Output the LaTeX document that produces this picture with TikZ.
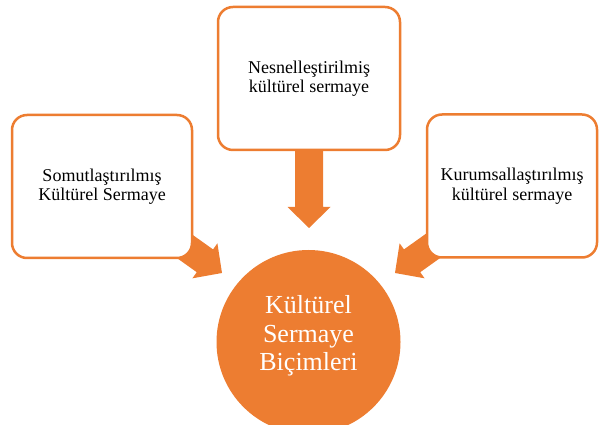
\documentclass[tikz,border=0pt]{standalone}
\usepackage{fontspec}
\setmainfont{Liberation Serif}
\definecolor{accent}{HTML}{ED7D31}
\newcommand{\blockarr}[3]{%
  \fill[accent, shift={(#1)}, rotate=#2] (0,0) -- (-21,21.5) -- (-21,14) -- (-#3,14) -- (-#3,-14) -- (-21,-14) -- (-21,-21.5) -- cycle;}
\begin{document}
\begin{tikzpicture}[x=1pt,y=1pt,
  box/.style={draw=accent, line width=2.5pt, fill=white, rounded corners=15pt,
    minimum height=143pt, align=center, font=\fontsize{18}{19.5}\selectfont},
  hub/.style={circle, fill=accent, minimum size=184pt, inner sep=0pt}]
\clip (0,0) rectangle (599,425);
\useasboundingbox (0,0) rectangle (599,425);
% arrow tips
\coordinate (tipT) at (309,197);
\coordinate (tipL) at (222,152);
\coordinate (tipR) at (395,152);
\blockarr{tipT}{-90}{82}
\blockarr{tipL}{-35.5}{70}
\blockarr{tipR}{-144.5}{70}
% boxes
\node[box, minimum width=182pt] (top) at (309,346.5) {Nesnelleştirilmiş\\kültürel sermaye};
\node[box, minimum width=180pt] (left) at (102,238.5) {Somutlaştırılmış\\Kültürel Sermaye};
\node[box, minimum width=170pt] (right) at (512,239) {Kurumsallaştırılmış\\kültürel sermaye};
% hub
\node[hub] (hub) at (308.5,83) {};
\node[text=white, align=center, font=\fontsize{26}{28.5}\selectfont] (hubtext) at (308.5,89) {Kültürel\\Sermaye\\Biçimleri};
\end{tikzpicture}
\end{document}
